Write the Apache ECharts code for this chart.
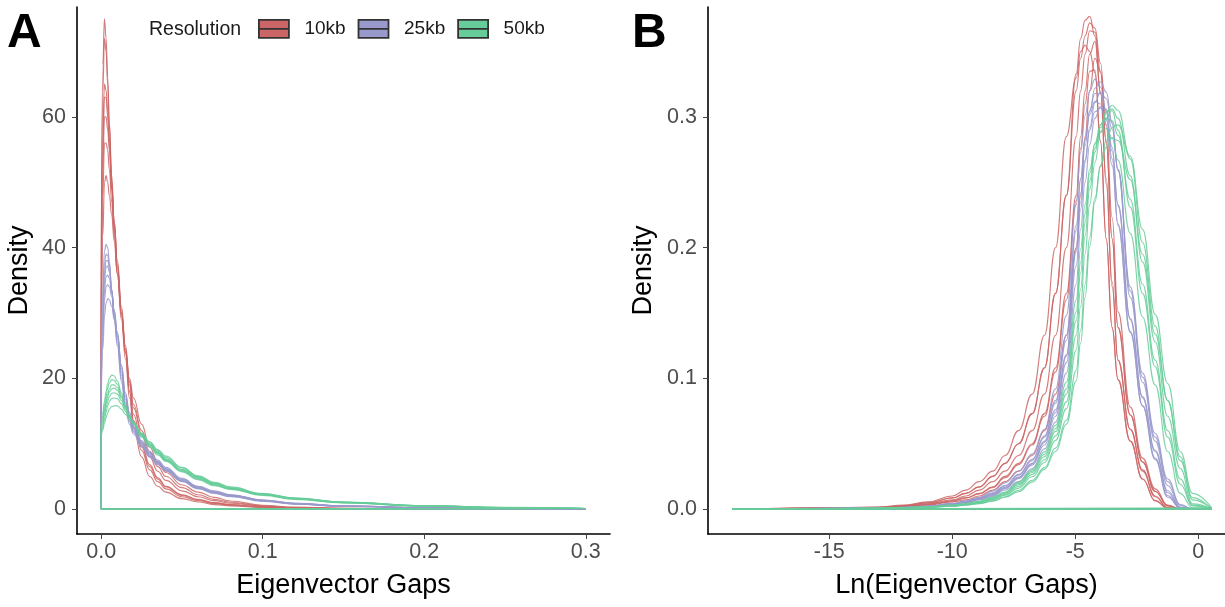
<!DOCTYPE html>
<html>
<head>
<meta charset="utf-8">
<script src="https://cdn.jsdelivr.net/npm/echarts@6/dist/echarts.min.js"></script>
<style>
  html, body { margin: 0; padding: 0; background: #ffffff; }
  #chart { width: 1225px; height: 607px; }
</style>
</head>
<body>
<div id="chart"></div>
<script>
// ---- Groups -------------------------------------------------------------
const resolutions = ['10kb', '25kb', '50kb'];
const resolutionColors = ['#CC6666', '#9999CC', '#66CC99'];

// ---- Panel A: density of eigenvector gaps ------------------------------
const gapX = [0, 0.001, 0.002, 0.003, 0.004, 0.005, 0.0065, 0.008, 0.01, 0.0125, 0.015, 0.0175,
  0.02, 0.025, 0.03, 0.035, 0.04, 0.05, 0.06, 0.07, 0.08, 0.1, 0.12, 0.15, 0.2, 0.25, 0.3];

const gapDensity10kb = [
  [38, 68, 75, 72, 66, 59, 50, 43, 36, 29, 23, 17, 12.5, 8, 5, 3.5, 2.6, 1.6, 1.1, 0.7, 0.5, 0.25, 0.12, 0.06, 0.03, 0.015, 0.01],
  [35, 64, 72, 70, 65, 59, 51, 44, 37, 30, 24, 18, 13.5, 9, 6, 4.2, 3.1, 1.9, 1.3, 0.85, 0.6, 0.3, 0.15, 0.07, 0.03, 0.02, 0.01],
  [30, 58, 65, 64, 61, 57, 50, 44, 37.5, 30.5, 24.5, 19, 14.5, 10, 6.8, 4.8, 3.5, 2.2, 1.5, 1.0, 0.7, 0.35, 0.18, 0.08, 0.04, 0.02, 0.01],
  [28, 55, 63, 63, 60, 56, 49, 43, 37, 30, 24, 18, 13.5, 9.5, 6.5, 4.6, 3.4, 2.1, 1.4, 0.95, 0.65, 0.33, 0.17, 0.08, 0.03, 0.02, 0.01],
  [26, 52, 60, 60, 58, 55, 49, 44, 38, 31, 25, 19.5, 15.5, 11.5, 8, 5.8, 4.4, 2.8, 1.9, 1.3, 0.9, 0.45, 0.22, 0.1, 0.04, 0.02, 0.01],
  [24, 48, 56, 56, 55, 52, 47, 42, 36, 29.5, 24, 19.5, 16, 12, 8.8, 6.5, 5, 3.3, 2.2, 1.5, 1.05, 0.5, 0.25, 0.12, 0.05, 0.02, 0.01],
  [22, 42, 50, 51, 50, 48, 45, 41, 36, 30, 24.5, 20, 17, 13, 9.5, 7.2, 5.6, 3.7, 2.6, 1.8, 1.25, 0.6, 0.3, 0.14, 0.05, 0.02, 0.01]
];

const gapDensity25kb = [
  [24, 34, 39.5, 40.5, 40, 38, 33.5, 29, 25, 19.5, 15.5, 13, 11.5, 9.5, 8.0, 6.8, 5.8, 4.2, 3.1, 2.4, 1.9, 1.2, 0.75, 0.42, 0.18, 0.09, 0.05],
  [22, 32, 37.5, 39, 38.8, 37.5, 33.5, 29.5, 25.5, 20, 16, 13.4, 11.8, 9.7, 8.1, 6.9, 5.9, 4.3, 3.2, 2.5, 2.0, 1.25, 0.8, 0.45, 0.2, 0.1, 0.05],
  [21, 30.5, 36, 38, 38, 37, 33.5, 30, 26, 20.5, 16.3, 13.6, 11.9, 9.8, 8.2, 7.0, 5.9, 4.3, 3.2, 2.5, 2.0, 1.3, 0.8, 0.45, 0.2, 0.1, 0.05],
  [20, 29.5, 35, 37, 37.2, 36.3, 33.5, 30.5, 26.5, 21, 16.8, 14, 12.2, 10, 8.4, 7.1, 6.0, 4.4, 3.3, 2.6, 2.1, 1.3, 0.85, 0.48, 0.2, 0.1, 0.05],
  [19, 28, 33.5, 35.5, 35.8, 35.3, 33, 30.5, 27, 21.5, 17.2, 14.3, 12.4, 10.2, 8.5, 7.2, 6.1, 4.5, 3.4, 2.6, 2.1, 1.35, 0.85, 0.48, 0.2, 0.1, 0.05],
  [18, 26.5, 32, 34, 34.3, 34, 32.5, 30, 27, 22, 17.5, 14.5, 12.6, 10.3, 8.6, 7.3, 6.2, 4.6, 3.4, 2.7, 2.2, 1.4, 0.9, 0.5, 0.22, 0.1, 0.05],
  [17, 24.5, 29.5, 31.5, 32.2, 32, 31, 29, 26.5, 22, 17.8, 14.8, 12.8, 10.5, 8.8, 7.5, 6.4, 4.7, 3.5, 2.8, 2.2, 1.4, 0.9, 0.5, 0.22, 0.1, 0.05]
];

const gapDensity50kb = [
  [13, 14.8, 16.5, 18, 19.2, 20, 20.5, 20.4, 19.6, 17.8, 15.8, 14.2, 13, 11, 9.5, 8.3, 7.3, 5.7, 4.5, 3.6, 3.0, 2.1, 1.5, 0.95, 0.45, 0.22, 0.1],
  [12.5, 14.2, 15.9, 17.3, 18.5, 19.3, 19.8, 19.7, 19.1, 17.5, 15.7, 14.2, 13.1, 11.2, 9.7, 8.5, 7.4, 5.8, 4.6, 3.7, 3.1, 2.2, 1.55, 1.0, 0.48, 0.23, 0.1],
  [12, 13.6, 15.2, 16.5, 17.6, 18.4, 19, 19, 18.6, 17.2, 15.6, 14.2, 13.2, 11.3, 9.8, 8.6, 7.5, 5.9, 4.7, 3.8, 3.1, 2.2, 1.6, 1.0, 0.5, 0.24, 0.1],
  [12.2, 13.6, 15, 16.2, 17.2, 17.9, 18.4, 18.5, 18.2, 17, 15.5, 14.2, 13.2, 11.4, 9.9, 8.7, 7.6, 6.0, 4.8, 3.9, 3.2, 2.3, 1.6, 1.05, 0.5, 0.25, 0.1],
  [11.5, 12.9, 14.3, 15.5, 16.5, 17.2, 17.7, 17.8, 17.6, 16.6, 15.3, 14.1, 13.2, 11.5, 10.0, 8.8, 7.7, 6.1, 4.9, 3.9, 3.2, 2.3, 1.65, 1.05, 0.52, 0.25, 0.1],
  [11.2, 12.5, 13.7, 14.8, 15.8, 16.5, 16.9, 17, 16.9, 16.1, 15, 14, 13.2, 11.6, 10.2, 9.0, 7.9, 6.3, 5.0, 4.0, 3.3, 2.35, 1.7, 1.1, 0.53, 0.26, 0.1],
  [11, 12.1, 13.1, 14, 14.7, 15.3, 15.7, 15.8, 15.8, 15.3, 14.5, 13.7, 13, 11.6, 10.3, 9.1, 8.1, 6.4, 5.1, 4.1, 3.4, 2.4, 1.7, 1.1, 0.55, 0.27, 0.1]
];

// ---- Panel B: density of log eigenvector gaps ---------------------------
const lnGapX = [-18.95, -17.55, -15.51, -13.0, -12.0, -11.0, -10.0, -9.45, -8.9, -8.35, -7.85, -7.3,
  -6.75, -6.25, -5.8, -5.36, -4.96, -4.78, -4.6, -4.41, -4.2, -3.97, -3.74, -3.5, -3.26, -2.76,
  -2.26, -1.75, -1.24, -0.73, -0.23, 0.55];

const lnGapDensity10kb = [
  [0, 0.0003, 0.0007, 0.0016, 0.003, 0.0055, 0.010, 0.0145, 0.021, 0.029, 0.041, 0.06, 0.088, 0.133, 0.2, 0.285, 0.33, 0.35, 0.355, 0.35, 0.334, 0.281, 0.207, 0.139, 0.099, 0.052, 0.023, 0.0064, 0.0006, 0, 0, 0],
  [0, 0.0004, 0.0006, 0.0014, 0.0025, 0.0047, 0.0085, 0.012, 0.017, 0.025, 0.035, 0.05, 0.073, 0.108, 0.165, 0.24, 0.333, 0.36, 0.374, 0.377, 0.362, 0.319, 0.249, 0.17, 0.114, 0.061, 0.029, 0.0094, 0.001, 0, 0, 0],
  [0, 0.0002, 0.0005, 0.0012, 0.002, 0.004, 0.007, 0.010, 0.0145, 0.021, 0.029, 0.041, 0.06, 0.088, 0.133, 0.2, 0.285, 0.32, 0.348, 0.366, 0.365, 0.334, 0.281, 0.207, 0.139, 0.072, 0.036, 0.0136, 0.0024, 0.0001, 0, 0],
  [0, 0.0003, 0.0006, 0.001, 0.0018, 0.0035, 0.0063, 0.0085, 0.012, 0.017, 0.025, 0.035, 0.05, 0.073, 0.108, 0.165, 0.24, 0.285, 0.32, 0.348, 0.358, 0.318, 0.253, 0.174, 0.114, 0.061, 0.03, 0.01, 0.0012, 0, 0, 0],
  [0, 0.0002, 0.0008, 0.0014, 0.0025, 0.0047, 0.0085, 0.012, 0.017, 0.025, 0.035, 0.05, 0.073, 0.108, 0.165, 0.24, 0.32, 0.345, 0.362, 0.372, 0.368, 0.341, 0.294, 0.223, 0.151, 0.078, 0.039, 0.0154, 0.003, 0.0001, 0, 0],
  [0, 0.0003, 0.0005, 0.0009, 0.0016, 0.003, 0.0055, 0.007, 0.010, 0.0145, 0.021, 0.029, 0.041, 0.06, 0.088, 0.133, 0.2, 0.24, 0.285, 0.32, 0.345, 0.335, 0.281, 0.207, 0.139, 0.072, 0.036, 0.0136, 0.0024, 0.0001, 0, 0],
  [0, 0.0004, 0.0009, 0.001, 0.0018, 0.0034, 0.006, 0.0085, 0.0115, 0.0165, 0.024, 0.034, 0.049, 0.071, 0.105, 0.16, 0.233, 0.276, 0.31, 0.335, 0.336, 0.281, 0.207, 0.139, 0.099, 0.052, 0.023, 0.0064, 0.0006, 0, 0, 0]
];

const lnGapDensity25kb = [
  [0, 0.0002, 0.0004, 0.0009, 0.0013, 0.0023, 0.0043, 0.0062, 0.009, 0.0137, 0.02, 0.029, 0.042, 0.061, 0.092, 0.148, 0.236, 0.273, 0.301, 0.32, 0.329, 0.323, 0.304, 0.268, 0.217, 0.136, 0.079, 0.038, 0.009, 0.0008, 0, 0],
  [0, 0.0002, 0.0004, 0.0008, 0.0012, 0.0021, 0.004, 0.0057, 0.0083, 0.012, 0.0177, 0.026, 0.037, 0.055, 0.081, 0.129, 0.213, 0.252, 0.283, 0.305, 0.318, 0.318, 0.305, 0.277, 0.232, 0.145, 0.085, 0.044, 0.0125, 0.0009, 0, 0],
  [0, 0.0002, 0.0004, 0.0008, 0.0012, 0.002, 0.0037, 0.0054, 0.0078, 0.0112, 0.0167, 0.0245, 0.035, 0.052, 0.076, 0.118, 0.199, 0.242, 0.278, 0.304, 0.322, 0.327, 0.319, 0.296, 0.259, 0.162, 0.097, 0.052, 0.018, 0.0015, 0, 0],
  [0, 0.0002, 0.0004, 0.0007, 0.0011, 0.0018, 0.0033, 0.0048, 0.0069, 0.0097, 0.0146, 0.021, 0.031, 0.046, 0.0665, 0.104, 0.172, 0.214, 0.25, 0.279, 0.299, 0.308, 0.306, 0.291, 0.26, 0.17, 0.104, 0.058, 0.023, 0.0034, 0, 0],
  [0, 0.0003, 0.0005, 0.0007, 0.0011, 0.0019, 0.0035, 0.005, 0.0073, 0.0104, 0.0156, 0.0233, 0.0336, 0.049, 0.071, 0.112, 0.186, 0.229, 0.265, 0.292, 0.311, 0.319, 0.314, 0.295, 0.26, 0.167, 0.101, 0.055, 0.021, 0.0027, 0, 0],
  [0, 0.0002, 0.0004, 0.0008, 0.0012, 0.0019, 0.0036, 0.0053, 0.0077, 0.011, 0.0163, 0.024, 0.0346, 0.051, 0.074, 0.117, 0.197, 0.235, 0.267, 0.29, 0.304, 0.307, 0.298, 0.274, 0.233, 0.146, 0.086, 0.045, 0.014, 0.0012, 0, 0],
  [0, 0.0003, 0.0005, 0.0008, 0.0013, 0.0022, 0.0041, 0.0058, 0.0085, 0.0124, 0.018, 0.0265, 0.038, 0.056, 0.083, 0.133, 0.217, 0.253, 0.282, 0.302, 0.312, 0.31, 0.294, 0.263, 0.218, 0.135, 0.079, 0.039, 0.0103, 0.0009, 0, 0]
];

const lnGapDensity50kb = [
  [0, 0.0002, 0.0003, 0.0007, 0.0011, 0.0017, 0.003, 0.0042, 0.006, 0.009, 0.013, 0.0204, 0.03, 0.0437, 0.064, 0.097, 0.16, 0.199, 0.233, 0.26, 0.279, 0.289, 0.291, 0.284, 0.267, 0.211, 0.147, 0.095, 0.044, 0.012, 0.001, 0],
  [0, 0.0002, 0.0003, 0.0006, 0.001, 0.0015, 0.0026, 0.0036, 0.0051, 0.0077, 0.0112, 0.0173, 0.0265, 0.0377, 0.056, 0.082, 0.133, 0.168, 0.209, 0.245, 0.273, 0.294, 0.304, 0.306, 0.299, 0.255, 0.189, 0.128, 0.071, 0.031, 0.004, 0],
  [0, 0.0001, 0.0003, 0.0005, 0.0009, 0.0014, 0.0022, 0.003, 0.0042, 0.006, 0.009, 0.0132, 0.0206, 0.0304, 0.044, 0.065, 0.098, 0.127, 0.162, 0.201, 0.235, 0.263, 0.282, 0.292, 0.294, 0.27, 0.214, 0.149, 0.096, 0.044, 0.012, 0.001],
  [0, 0.0002, 0.0003, 0.0006, 0.001, 0.0016, 0.0027, 0.0038, 0.0055, 0.0082, 0.0121, 0.0186, 0.028, 0.04, 0.0594, 0.088, 0.144, 0.181, 0.219, 0.251, 0.276, 0.292, 0.299, 0.297, 0.286, 0.237, 0.172, 0.114, 0.06, 0.023, 0.003, 0],
  [0, 0.0002, 0.0003, 0.0006, 0.001, 0.0015, 0.0023, 0.0033, 0.0048, 0.0072, 0.0106, 0.016, 0.0247, 0.0356, 0.0525, 0.0766, 0.1215, 0.155, 0.195, 0.233, 0.265, 0.288, 0.303, 0.309, 0.305, 0.268, 0.204, 0.14, 0.083, 0.04, 0.007, 0.0004],
  [0, 0.0002, 0.0003, 0.0005, 0.0009, 0.0014, 0.0022, 0.0031, 0.0043, 0.0064, 0.0094, 0.0143, 0.0219, 0.0317, 0.0466, 0.068, 0.106, 0.137, 0.172, 0.208, 0.238, 0.262, 0.277, 0.284, 0.282, 0.252, 0.195, 0.134, 0.083, 0.037, 0.0087, 0],
  [0, 0.0002, 0.0004, 0.0007, 0.001, 0.0016, 0.0028, 0.0039, 0.0057, 0.0085, 0.0125, 0.0194, 0.029, 0.0418, 0.0616, 0.092, 0.151, 0.189, 0.226, 0.257, 0.28, 0.294, 0.299, 0.305, 0.29, 0.231, 0.165, 0.109, 0.055, 0.019, 0.0024, 0]
];

// ---- Tick labels ----------------------------------------------------------
const gapTicks = [0, 0.1, 0.2, 0.3];
const gapDensityTicks = [0, 20, 40, 60];
const lnGapTicks = [-15, -10, -5, 0];
const lnGapDensityTicks = [0, 0.1, 0.2, 0.3];

// ---- Chart ------------------------------------------------------------------
const FONT = '"Liberation Sans", Arial, Helvetica, sans-serif';
const chart = echarts.init(document.getElementById('chart'), null, { renderer: 'canvas' });

// Each density outline is an open curve plus the closing edges
// (right edge down, baseline, left edge up), like a polygon without fill.
function densitySeries(xs, curves, groupIndex, axisIndex) {
  const name = resolutions[groupIndex];
  const color = resolutionColors[groupIndex];
  const line = { color, width: 1.15, opacity: 0.85 };
  const out = [];
  curves.forEach(ys => {
    const n = xs.length - 1;
    out.push({
      type: 'line', name, xAxisIndex: axisIndex, yAxisIndex: axisIndex,
      data: xs.map((x, i) => [x, ys[i]]),
      smooth: 0.45, smoothMonotone: 'x', symbol: 'none', silent: true, clip: true,
      lineStyle: line, itemStyle: { color }
    });
    out.push({
      type: 'line', name, xAxisIndex: axisIndex, yAxisIndex: axisIndex,
      data: [[xs[n], ys[n]], [xs[n], 0], [xs[0], 0], [xs[0], ys[0]]],
      smooth: false, symbol: 'none', silent: true, clip: true,
      lineStyle: { color, width: 0.9, opacity: 0.85 }, itemStyle: { color }
    });
  });
  return out;
}

const series = [].concat(
  densitySeries(gapX, gapDensity10kb, 0, 0),
  densitySeries(gapX, gapDensity25kb, 1, 0),
  densitySeries(gapX, gapDensity50kb, 2, 0),
  densitySeries(lnGapX, lnGapDensity10kb, 0, 1),
  densitySeries(lnGapX, lnGapDensity25kb, 1, 1),
  densitySeries(lnGapX, lnGapDensity50kb, 2, 1)
);

const axisLine = { show: true, onZero: false, lineStyle: { color: '#000', width: 1.6 } };
const axisTick = { show: true, length: 5, lineStyle: { color: '#444', width: 1 } };
const labelStyle = { fontFamily: FONT, fontSize: 21.5, color: '#4D4D4D' };
const nameStyle = { fontFamily: FONT, fontSize: 27, color: '#000' };

function valueAxis(min, max, ticks, fmt, margin, extra) {
  return Object.assign({
    type: 'value', min, max,
    axisLine,
    axisTick: Object.assign({}, axisTick, { customValues: ticks }),
    axisLabel: Object.assign({}, labelStyle, { customValues: ticks, formatter: fmt, margin }),
    splitLine: { show: false },
    nameLocation: 'middle',
    nameTextStyle: nameStyle
  }, extra);
}

const option = {
  animation: false,
  backgroundColor: '#ffffff',
  grid: [
    { left: 77, top: 7, width: 533, height: 527 },
    { left: 708, top: 7, width: 517, height: 527 }
  ],
  xAxis: [
    valueAxis(-0.015, 0.315, gapTicks, v => v.toFixed(1), 7,
      { gridIndex: 0, name: 'Eigenvector Gaps', nameGap: 38 }),
    valueAxis(-19.93, 1.09, lnGapTicks, v => String(v), 7,
      { gridIndex: 1, name: 'Ln(Eigenvector Gaps)', nameGap: 38 })
  ],
  yAxis: [
    valueAxis(-3.8, 76.8, gapDensityTicks, v => String(v), 11,
      { gridIndex: 0, name: 'Density', nameGap: 44, nameRotate: 90 }),
    valueAxis(-0.0191, 0.3842, lnGapDensityTicks, v => v.toFixed(1), 11,
      { gridIndex: 1, name: 'Density', nameGap: 51, nameRotate: 90 })
  ],
  legend: {
    left: 258, top: 19, padding: 0,
    itemWidth: 31, itemHeight: 18, itemGap: 12,
    icon: 'path://M0,0H30V9H0ZM0,9H30V18H0Z',
    itemStyle: { borderColor: '#333', borderWidth: 1.8 },
    textStyle: { fontFamily: FONT, fontSize: 19, color: '#1a1a1a', padding: [0, 0, 0, 10] },
    selectedMode: false,
    data: resolutions
  },
  graphic: [
    { type: 'text', left: 7, top: 10, silent: true,
      style: { text: 'A', font: 'bold 48px ' + FONT, fill: '#000' } },
    { type: 'text', left: 632, top: 10, silent: true,
      style: { text: 'B', font: 'bold 48px ' + FONT, fill: '#000' } },
    { type: 'text', left: 149, top: 20, silent: true,
      style: { text: 'Resolution', font: '19.5px ' + FONT, fill: '#1a1a1a' } }
  ],
  series
};

chart.setOption(option);
</script>
</body>
</html>
